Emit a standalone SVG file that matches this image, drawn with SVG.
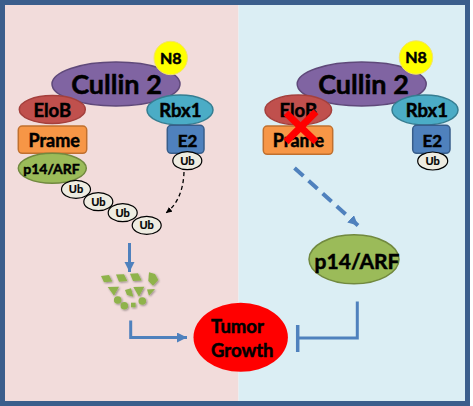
<svg xmlns="http://www.w3.org/2000/svg" width="473" height="406" viewBox="0 0 473 406">
<defs>
<style>
.t{font-family:Lato,"Liberation Sans",sans-serif;font-weight:bold;fill:#000;stroke:#000;stroke-width:0.5;text-anchor:middle}
.s{stroke-width:0.2}
.cul{fill:#8064a2;stroke:#5f497a;stroke-width:1.5}
.elo{fill:#c0504d;stroke:#a4403d;stroke-width:1.5}
.rbx{fill:#4bacc6;stroke:#357d91;stroke-width:1.5}
.pra{fill:#f79646;stroke:#c0702f;stroke-width:1.5}
.e2{fill:#4f81bd;stroke:#385d8a;stroke-width:1.5}
.p14{fill:#9bbb59;stroke:#71893f;stroke-width:1.5}
.n8{fill:#ffff00;stroke:#f2e36a;stroke-width:1}
.ub{fill:#eeece1;stroke:#000;stroke-width:1.2}
.frag{fill:#8fb34c;filter:url(#sh)}
.blue{fill:none;stroke:#4f81bd;stroke-width:3}
</style>
<marker id="ab" markerUnits="userSpaceOnUse" markerWidth="12" markerHeight="12" refX="10" refY="5" orient="auto">
<path d="M0,0 L10,5 L0,10 Z" fill="#4f81bd"/>
</marker>
<marker id="ak" markerUnits="userSpaceOnUse" markerWidth="8" markerHeight="8" refX="6" refY="3" orient="auto">
<path d="M0,0 L6,3 L0,6 Z" fill="#000"/>
</marker>
<filter id="sh" x="-50%" y="-50%" width="200%" height="200%">
<feGaussianBlur in="SourceAlpha" stdDeviation="1"/>
<feOffset dx="1" dy="1" result="b"/>
<feComponentTransfer><feFuncA type="linear" slope="0.4"/></feComponentTransfer>
<feMerge><feMergeNode/><feMergeNode in="SourceGraphic"/></feMerge>
</filter>
</defs>
<rect x="0" y="0" width="473" height="406" fill="#ffffff"/>
<rect x="0" y="0" width="238.5" height="406" fill="#f2dcdb"/>
<rect x="238.5" y="0" width="231.5" height="406" fill="#dbeef4"/>
<rect x="2.5" y="2.5" width="465" height="401" fill="none" stroke="#3b5e8c" stroke-width="5"/>

<g id="connectors">
<path d="M184,172 Q183,200 166,213" fill="none" stroke="#000" stroke-width="1.3" stroke-dasharray="4,3" marker-end="url(#ak)"/>
<line x1="129.5" y1="243" x2="129.5" y2="272" class="blue" marker-end="url(#ab)"/>
<polyline points="130.7,320.5 130.7,337.5 187,337.5" class="blue" marker-end="url(#ab)"/>
<polyline points="357.3,301.5 357.3,338 297.7,338" class="blue"/>
<line x1="297.7" y1="325" x2="297.7" y2="352" stroke="#4f81bd" stroke-width="3.5"/>
<line x1="294.5" y1="168" x2="358" y2="225.5" fill="none" stroke="#4f81bd" stroke-width="4" stroke-dasharray="12,7" marker-end="url(#ab)"/>
</g>

<g id="left-cullin2"><ellipse cx="116" cy="84" rx="64" ry="22" class="cul"/><text class="t" x="116.5" y="94" font-size="27">Cullin 2</text></g>
<g id="left-n8"><circle cx="170.7" cy="58" r="16.7" class="n8"/><text class="t" x="170.7" y="63.5" font-size="16">N8</text></g>
<g id="left-elob"><ellipse cx="52.3" cy="109.5" rx="33" ry="14" class="elo"/><text class="t" x="52.3" y="116.5" font-size="18.5">EloB</text></g>
<g id="left-rbx1"><ellipse cx="180" cy="110" rx="33" ry="15" class="rbx"/><text class="t" x="180.3" y="116.7" font-size="18.5">Rbx1</text></g>
<g id="left-prame"><rect x="18.3" y="126" width="68.4" height="27.3" rx="4" class="pra"/><text class="t" x="54.2" y="146.7" font-size="18">Prame</text></g>
<g id="left-e2"><rect x="167.3" y="125.3" width="36.7" height="28" rx="4" class="e2"/><text class="t" x="187.5" y="146.7" font-size="17">E2</text></g>
<g id="left-p14arf"><ellipse cx="52.3" cy="168.3" rx="34" ry="15" class="p14"/><text class="t" x="51.5" y="173.5" font-size="14">p14/ARF</text></g>
<g id="left-ub-e2"><ellipse cx="187.3" cy="160.7" rx="14.5" ry="9" class="ub"/><text class="t s" x="187.3" y="164.5" font-size="11">Ub</text></g>
<g id="ub-chain-1"><ellipse cx="76" cy="189.3" rx="14.5" ry="9" class="ub"/><text class="t s" x="76" y="193.2" font-size="11">Ub</text></g>
<g id="ub-chain-2"><ellipse cx="98.3" cy="201.7" rx="14.5" ry="9" class="ub"/><text class="t s" x="98.3" y="205.6" font-size="11">Ub</text></g>
<g id="ub-chain-3"><ellipse cx="122.7" cy="212.7" rx="14.5" ry="9" class="ub"/><text class="t s" x="122.7" y="216.6" font-size="11">Ub</text></g>
<g id="ub-chain-4"><ellipse cx="146.7" cy="225.3" rx="14.5" ry="9" class="ub"/><text class="t s" x="146.7" y="229.2" font-size="11">Ub</text></g>

<g id="fragments">
<path class="frag" d="M101,276 L109,275 L112.3,281.5 L104,282.3 Z"/>
<path class="frag" d="M116,274.5 L124,274.3 L127.3,281 L119,281.7 Z"/>
<path class="frag" d="M130,273.8 L138,273.3 L141.7,280.5 L133,281 Z"/>
<path class="frag" d="M149,272.3 L155,274 L158.3,280 L153,285.7 L148.3,281 Z"/>
<path class="frag" d="M107.7,287 L119,286.7 L114,295.7 Z"/>
<path class="frag" d="M125,290 L131,288.3 L133.3,296.7 L127,295 Z"/>
<path class="frag" d="M133.3,287 L144.3,286.7 L139,296.7 Z"/>
<path class="frag" d="M147,289.5 L155,289 L149,295.7 Z"/>
<circle class="frag" cx="117.7" cy="300" r="3.8"/>
<circle class="frag" cx="124.3" cy="305.7" r="3.8"/>
<rect class="frag" x="131" y="302.7" width="4.6" height="4.6"/>
<circle class="frag" cx="142.3" cy="301" r="3.8"/>
</g>

<g id="tumor-growth"><ellipse cx="240.7" cy="337.3" rx="47.2" ry="34.5" fill="#ff0000"/>
<text class="t" x="211" y="333" font-size="18.5" style="text-anchor:start">Tumor</text>
<text class="t" x="211" y="356.5" font-size="18.5" style="text-anchor:start">Growth</text></g>

<g id="right-cullin2"><ellipse cx="361.7" cy="84" rx="64.5" ry="22" class="cul"/><text class="t" x="363.5" y="94" font-size="27">Cullin 2</text></g>
<g id="right-n8"><circle cx="416" cy="57.5" r="16.7" class="n8"/><text class="t" x="416" y="63" font-size="16">N8</text></g>
<g id="right-elob"><ellipse cx="298.3" cy="110" rx="33.3" ry="15" class="elo"/><text class="t" x="298.3" y="116.7" font-size="18.5">EloB</text></g>
<g id="right-rbx1"><ellipse cx="425" cy="110" rx="33" ry="15" class="rbx"/><text class="t" x="426.8" y="116.7" font-size="18.5">Rbx1</text></g>
<g id="right-prame"><rect x="263.3" y="126" width="69.4" height="28.3" rx="4" class="pra"/><text class="t" x="298.5" y="147" font-size="18">Prame</text></g>
<g id="right-e2"><rect x="412.7" y="125.3" width="37.3" height="28" rx="4" class="e2"/><text class="t" x="432.3" y="146.7" font-size="17">E2</text></g>
<g id="right-ub"><ellipse cx="432.7" cy="161" rx="15" ry="9" class="ub"/><text class="t s" x="432.7" y="164.8" font-size="11">Ub</text></g>
<g id="red-x" stroke="#ff0000" stroke-width="7"><line x1="286" y1="113" x2="316" y2="141.7"/><line x1="316" y1="111.7" x2="286" y2="141.7"/></g>
<g id="right-p14arf"><ellipse cx="354" cy="259.3" rx="45" ry="24.5" class="p14"/><text class="t" x="357" y="269.3" font-size="21">p14/ARF</text></g>
</svg>
